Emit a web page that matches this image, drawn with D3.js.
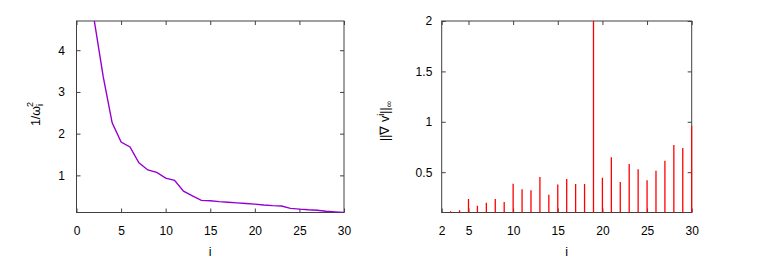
<!DOCTYPE html>
<html><head><meta charset="utf-8">
<script src="https://cdn.jsdelivr.net/npm/d3@7"></script>
<style>body{margin:0;background:#fff}svg{display:block}text{font-family:"Liberation Sans",Arial,sans-serif}</style>
</head><body>
<script>
// Left panel: 1/omega_i^2 vs i
const leftI = [2,3,4,5,6,7,8,9,10,11,12,13,14,15,16,17,18,19,20,21,22,23,24,25,26,27,28,29,30];
const leftV = [4.70,3.36,2.26,1.80,1.68,1.30,1.13,1.07,0.935,0.88,0.62,0.51,0.40,0.39,0.37,0.355,0.34,0.325,0.31,0.29,0.275,0.265,0.21,0.19,0.175,0.165,0.14,0.125,0.11];
const leftXTicks = [0,5,10,15,20,25,30];
const leftYTicks = [1,2,3,4];
// Right panel: ||grad v^i||_inf vs i (impulses)
const rightI = [2,3,4,5,6,7,8,9,10,11,12,13,14,15,16,17,18,19,20,21,22,23,24,25,26,27,28,29,30];
const rightV = [0.10,0.113,0.123,0.234,0.167,0.197,0.234,0.204,0.386,0.33,0.32,0.453,0.277,0.377,0.433,0.383,0.383,2.0,0.446,0.649,0.403,0.58,0.53,0.42,0.513,0.613,0.77,0.74,0.96];
const rightXTicks = [2,5,10,15,20,25,30];
const rightYTicks = [0.5,1,1.5,2];

const W = 763, H = 273;
const svg = d3.select("body").append("svg").attr("width", W).attr("height", H);
const frameColor = "#404040", fs = 12;
const yTop = 21, yBot = 212.5;

function panel(opts) {
  const x = d3.scaleLinear().domain(opts.xd).range([opts.x0, opts.x1]);
  const y = d3.scaleLinear().domain(opts.yd).range([yBot, yTop]);
  const g = svg.append("g");
  const clipId = "clip" + opts.id;
  svg.append("clipPath").attr("id", clipId).append("rect")
    .attr("x", opts.x0 - 1).attr("y", yTop).attr("width", opts.x1 - opts.x0 + 2).attr("height", yBot - yTop);
  g.append("g").attr("transform", `translate(0,${yBot})`)
    .call(d3.axisBottom(x).tickValues(opts.xt).tickSize(-4).tickPadding(13.5).tickFormat(d3.format("")));
  g.append("g").attr("transform", `translate(0,${yTop})`)
    .call(d3.axisTop(x).tickValues(opts.xt).tickSize(-4).tickFormat(""));
  g.append("g").attr("transform", `translate(${opts.x0},0)`)
    .call(d3.axisLeft(y).tickValues(opts.yt).tickSize(-4).tickPadding(opts.yPad).tickFormat(d3.format("")));
  g.append("g").attr("transform", `translate(${opts.x1},0)`)
    .call(d3.axisRight(y).tickValues(opts.yt).tickSize(-4).tickFormat(""));
  g.selectAll(".domain").remove();
  g.selectAll(".tick line").attr("stroke", frameColor);
  g.selectAll(".tick text").attr("font-size", fs).attr("fill", "#000").attr("font-family", "Liberation Sans, Arial, sans-serif");
  g.append("rect").attr("x", opts.x0).attr("y", yTop).attr("width", opts.x1 - opts.x0).attr("height", yBot - yTop)
    .attr("fill", "none").attr("stroke", frameColor).attr("stroke-width", 1);
  opts.draw(g.append("g").attr("clip-path", `url(#${clipId})`), x, y);
  g.append("text").attr("x", (opts.x0 + opts.x1) / 2).attr("y", 256).attr("text-anchor", "middle")
    .attr("font-size", 12.5).text("i");
  return g;
}

panel({
  id: "L", xd: [0, 30], yd: [0.11, 4.70], x0: 76.5, x1: 344, xt: leftXTicks, yt: leftYTicks, yPad: 11.5,
  draw: (g, x, y) => {
    const data = leftI.map((d, k) => [d, leftV[k]]);
    g.append("path").datum(data).attr("fill", "none").attr("stroke", "#9400d3").attr("stroke-width", 1.4)
      .attr("d", d3.line().x(d => x(d[0])).y(d => y(d[1])));
  }
});
const ll = svg.append("text").attr("transform", "translate(40,114) rotate(-90)").attr("text-anchor", "middle")
  .attr("font-size", 12.5);
ll.append("tspan").text("1/ω");
ll.append("tspan").attr("font-size", 9).attr("dy", 3).text("i");
ll.append("tspan").attr("font-size", 9).attr("dx", -3).attr("dy", -10).text("2");

panel({
  id: "R", xd: [2, 30], yd: [0.1, 2], x0: 441.7, x1: 691.7, xt: rightXTicks, yt: rightYTicks, yPad: 9.4,
  draw: (g, x, y) => {
    g.selectAll("line.imp").data(rightI.map((d, k) => [d, rightV[k]])).join("line").attr("class", "imp")
      .attr("x1", d => x(d[0])).attr("x2", d => x(d[0]))
      .attr("y1", y(0)).attr("y2", d => y(d[1]))
      .attr("stroke", "#ff0000").attr("stroke-width", 1.3);
  }
});
const rl = svg.append("text").attr("transform", "translate(389,121) rotate(-90)").attr("text-anchor", "middle")
  .attr("font-size", 12.5);
rl.append("tspan").text("||∇ v");
rl.append("tspan").attr("font-size", 9).attr("dy", -5).text("i");
rl.append("tspan").attr("dy", 5).text("||");
rl.append("tspan").attr("font-size", 9).attr("dy", 3).text("∞");
</script>
</body></html>
